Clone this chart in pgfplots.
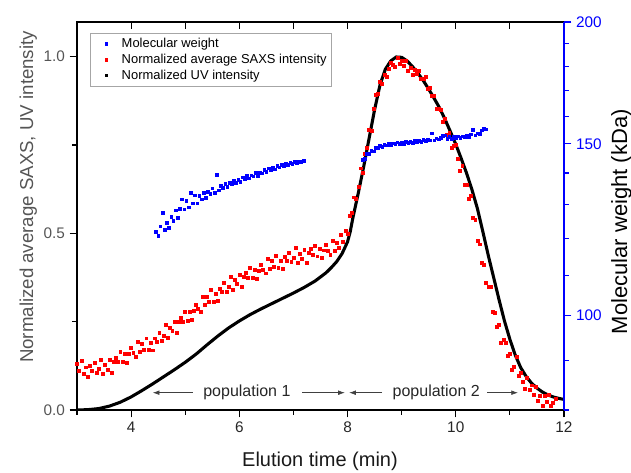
\documentclass[border=0pt]{standalone}
\usepackage{fontspec}
\setmainfont{Liberation Sans}
\usepackage{pgfplots}
\usepackage{pgfplotstable}
\pgfplotsset{compat=1.18}
\usetikzlibrary{arrows.meta}

\definecolor{lgray}{RGB}{85,85,85}

% normalized average SAXS intensity
\pgfplotstableread{
x y
3.00 .132
3.04 .112
3.08 .140
3.12 .103
3.16 .121
3.20 .095
3.24 .126
3.28 .112
3.32 .133
3.36 .106
3.40 .117
3.44 .143
3.48 .102
3.52 .128
3.56 .115
3.60 .141
3.64 .106
3.68 .136
3.72 .149
3.76 .136
3.80 .165
3.84 .136
3.88 .159
3.92 .135
3.96 .158
4.00 .176
4.04 .161
4.08 .151
4.12 .192
4.16 .166
4.20 .188
4.24 .171
4.28 .203
4.32 .170
4.36 .191
4.40 .169
4.44 .203
4.48 .194
4.52 .219
4.56 .196
4.60 .211
4.64 .241
4.68 .204
4.72 .233
4.76 .223
4.80 .251
4.84 .218
4.88 .249
4.92 .262
4.96 .250
5.00 .279
5.04 .252
5.08 .277
5.12 .255
5.16 .280
5.20 .299
5.24 .286
5.28 .278
5.32 .321
5.36 .297
5.40 .320
5.44 .305
5.48 .339
5.52 .307
5.56 .329
5.60 .308
5.64 .343
5.68 .334
5.72 .359
5.76 .335
5.80 .349
5.84 .378
5.88 .340
5.92 .368
5.96 .357
6.00 .384
6.04 .349
6.08 .378
6.12 .389
6.16 .375
6.20 .403
6.24 .374
6.28 .396
6.32 .372
6.36 .394
6.40 .412
6.44 .397
6.48 .387
6.52 .428
6.56 .401
6.60 .422
6.64 .405
6.68 .436
6.72 .402
6.76 .423
6.80 .400
6.84 .433
6.88 .422
6.92 .445
6.96 .419
7.00 .431
7.04 .458
7.08 .417
7.12 .443
7.16 .429
7.20 .454
7.24 .417
7.28 .445
7.32 .455
7.36 .440
7.40 .466
7.44 .435
7.48 .456
7.52 .430
7.56 .452
7.60 .468
7.64 .451
7.68 .439
7.72 .479
7.76 .451
7.80 .472
7.84 .458
7.88 .497
7.92 .475
7.96 .508
8.00 .500
8.04 .549
8.08 .558
8.12 .602
8.16 .597
8.20 .631
8.24 .684
8.28 .672
8.32 .726
8.36 .741
8.40 .794
8.44 .791
8.48 .852
8.52 .891
8.56 .894
8.60 .929
8.64 .924
8.68 .949
8.72 .943
8.76 .965
8.80 .982
8.84 .976
8.88 .972
8.92 .998
8.96 .981
9.00 .989
9.04 .974
9.08 .988
9.12 .961
9.16 .968
9.20 .949
9.24 .963
9.28 .952
9.32 .960
9.36 .938
9.40 .937
9.44 .944
9.48 .909
9.52 .912
9.56 .890
9.60 .888
9.64 .852
9.68 .853
9.72 .849
9.76 .816
9.80 .825
9.84 .779
9.88 .785
9.92 .743
9.96 .749
10.00 .750
10.04 .712
10.08 .676
10.12 .690
10.16 .638
10.20 .637
10.24 .597
10.28 .606
10.32 .545
10.36 .538
10.40 .478
10.44 .469
10.48 .416
10.52 .412
10.56 .359
10.60 .349
10.64 .349
10.68 .277
10.72 .276
10.76 .236
10.80 .242
10.84 .189
10.88 .200
10.92 .191
10.96 .154
11.00 .159
11.04 .113
11.08 .122
11.12 .150
11.16 .097
11.20 .105
11.24 .080
11.28 .060
11.32 .092
11.36 .057
11.40 .070
11.44 .044
11.48 .067
11.52 .026
11.56 .040
11.60 .011
11.64 .039
11.68 .023
11.72 .042
11.76 .012
11.80 .020
11.84 .031
}\saxs

% normalized UV intensity
\pgfplotstableread{
x y
3.0 0.000
3.2 0.001
3.4 0.004
3.6 0.011
3.8 0.022
4.0 0.037
4.2 0.055
4.4 0.074
4.6 0.094
4.8 0.114
5.0 0.135
5.2 0.158
5.4 0.184
5.6 0.209
5.8 0.232
6.0 0.252
6.2 0.270
6.4 0.286
6.6 0.301
6.8 0.316
7.0 0.331
7.2 0.347
7.4 0.365
7.6 0.388
7.7 0.403
7.8 0.420
7.9 0.443
8.0 0.476
8.05 0.505
8.1 0.545
8.2 0.615
8.3 0.690
8.4 0.770
8.5 0.850
8.6 0.920
8.7 0.965
8.8 0.988
8.9 0.999
9.0 0.998
9.1 0.988
9.2 0.972
9.3 0.953
9.4 0.932
9.5 0.908
9.6 0.882
9.7 0.855
9.8 0.823
9.9 0.788
10.0 0.752
10.1 0.712
10.2 0.670
10.3 0.623
10.4 0.570
10.5 0.505
10.6 0.438
10.7 0.375
10.8 0.312
10.9 0.252
11.0 0.200
11.1 0.155
11.2 0.120
11.3 0.095
11.4 0.076
11.5 0.062
11.6 0.051
11.7 0.043
11.8 0.037
11.9 0.033
12.0 0.030
}\uv

% molecular weight (kDa), population 1
\pgfplotstableread{
x y
4.46 121.8
4.50 120.7
4.54 123.5
4.58 127.5
4.62 122.5
4.66 124.4
4.70 123.1
4.74 126.3
4.78 125.1
4.82 128.2
4.86 125.9
4.90 128.6
4.94 131.6
4.98 128.5
5.02 131.2
5.06 129.1
5.10 133.7
5.14 130.3
5.18 132.8
5.22 130.3
5.26 132.6
5.30 131.6
5.34 133.7
5.38 132.0
5.42 133.9
5.46 133.3
5.50 135.0
5.54 133.6
5.58 139.4
5.62 134.4
5.66 135.9
5.70 135.2
5.74 136.4
5.78 135.5
5.82 136.8
5.86 136.4
5.90 137.6
5.94 136.8
5.98 137.8
6.02 137.2
6.06 138.6
6.10 138.0
6.14 139.0
6.18 138.3
6.22 139.3
6.26 138.9
6.30 140.1
6.34 139.2
6.38 140.2
6.42 139.9
6.46 141.0
6.50 140.4
6.54 141.6
6.58 141.1
6.62 141.8
6.66 141.3
6.70 142.5
6.74 141.9
6.78 142.8
6.82 142.5
6.86 143.2
6.90 142.7
6.94 143.5
6.98 143.2
7.02 143.8
7.06 143.3
7.10 143.9
7.14 143.7
7.18 144.2
7.20 144.0
}\mwa

% molecular weight (kDa), population 2
\pgfplotstableread{
x y
8.28 144.5
8.32 144.9
8.36 146.4
8.40 146.5
8.44 147.6
8.48 147.4
8.52 148.6
8.56 148.5
8.60 149.4
8.64 149.0
8.68 149.7
8.72 149.5
8.76 150.2
8.80 149.6
8.84 150.2
8.88 149.9
8.92 150.5
8.96 150.1
9.00 150.5
9.04 150.1
9.08 150.7
9.12 150.3
9.16 150.7
9.20 150.4
9.24 151.0
9.28 150.5
9.32 151.1
9.36 150.8
9.40 151.4
9.44 151.0
9.48 151.5
9.52 151.2
9.56 153.8
9.60 151.3
9.64 152.0
9.68 151.6
9.72 152.2
9.76 152.8
9.80 153.1
9.84 151.9
9.88 152.5
9.92 151.9
9.96 152.5
10.00 152.1
10.04 152.7
10.08 152.1
10.12 152.7
10.16 152.4
10.20 153.0
10.24 152.5
10.28 153.4
10.32 155.0
10.36 153.1
10.40 153.8
10.44 153.5
10.48 154.9
10.52 155.6
10.56 155.2
}\mwb

\begin{document}
\begin{tikzpicture}
% left axis: SAXS and UV
\begin{axis}[
    at={(0,0)},
    width=365.25pt, height=291pt, scale only axis,
    xmin=3, xmax=12, ymin=0, ymax=1.098,
    xtick={4,6,8,10,12}, minor xtick={3,5,7,9,11},
    ytick={0,0.5,1}, minor ytick={0.25,0.75},
    yticklabels={0.0,0.5,1.0},
    xtick pos=bottom, ytick pos=left,
    tick align=outside,
    major tick length=5.5pt, minor tick length=3.5pt,
    every tick/.style={black, line width=0.8pt},
    axis line style={line width=0.9pt},
    tick label style={font=\fontsize{11.5}{13}\selectfont},
    xticklabel style={black!85},
    yticklabel style={lgray},
    /pgf/number format/assume math mode=true,
    xlabel={Elution time (min)},
    xlabel style={at={(axis description cs:0.499,-0.1460)}, anchor=base,
        font=\fontsize{15}{17}\selectfont, black!90},
    ylabel={Normalized average SAXS, UV intensity},
    ylabel style={at={(axis description cs:-0.0903,0.549)}, anchor=base,
        font=\fontsize{14}{16}\selectfont, lgray},
]
\addplot[only marks, mark=square*, mark size=1.1pt, red] table {\saxs};
\addplot[black, line width=2.3pt] table {\uv};

\draw[-{Latex[length=5pt,width=3.5pt]}, black!75, line width=0.5pt]
    (axis cs:5.14,0.049) -- (axis cs:4.40,0.049);
\draw[-{Latex[length=5pt,width=3.5pt]}, black!75, line width=0.5pt]
    (axis cs:7.16,0.049) -- (axis cs:7.95,0.049);
\node[anchor=base, font=\fontsize{12}{14}\selectfont, black!85]
    at (axis cs:6.14,0.0377) {population 1};
\draw[-{Latex[length=5pt,width=3.5pt]}, black!75, line width=0.5pt]
    (axis cs:8.64,0.049) -- (axis cs:8.03,0.049);
\draw[-{Latex[length=5pt,width=3.5pt]}, black!75, line width=0.5pt]
    (axis cs:10.58,0.049) -- (axis cs:11.15,0.049);
\node[anchor=base, font=\fontsize{12}{14}\selectfont, black!85]
    at (axis cs:9.64,0.0377) {population 2};
\end{axis}

% top ticks, pointing inward
\begin{axis}[
    at={(0,0)},
    width=365.25pt, height=291pt, scale only axis,
    xmin=3, xmax=12, ymin=0, ymax=1,
    axis x line*=top, axis y line=none,
    x axis line style={-, line width=0.9pt},
    xtick={4,5,...,11}, xticklabels={},
    tick align=inside, major tick length=5pt,
    every tick/.style={black, line width=0.8pt},
]
\end{axis}

% right axis: molecular weight
\begin{axis}[
    at={(0,0)},
    width=365.25pt, height=291pt, scale only axis,
    xmin=3, xmax=12,
    axis x line=none,
    axis y line*=right,
    ymode=log, ymin=80, ymax=200,
    ytick={100,150,200}, yticklabels={100,150,200},
    minor ytick={80,90,110,120,130,140,160,170,180,190},
    y axis line style={-, blue, line width=0.9pt},
    tick align=outside,
    major tick length=5.5pt, minor tick length=3.5pt,
    every tick/.style={blue, line width=0.8pt},
    yticklabel style={blue, font=\fontsize{11.5}{13}\selectfont},
    ylabel={Molecular weight (kDa)},
    ylabel style={at={(axis description cs:1.1294,0.485)}, anchor=base,
        font=\fontsize{16.5}{18}\selectfont, black},
    legend style={at={(axis description cs:0.0267,0.9716)}, anchor=north west,
        draw=gray!70, line width=0.6pt, fill=white,
        font=\fontsize{9.7}{11}\selectfont,
        inner xsep=1.5pt, inner ysep=1.5pt, row sep=-0.6pt},
    legend cell align=left,
    legend image code/.code={%
        \path[draw=none, fill=none] (0pt,0pt) -- (20pt,0pt);
        \draw[#1] plot coordinates {(10.5pt,0pt)};},
]
\addplot[only marks, mark=square*, mark size=1pt, blue] table {\mwa};
\addlegendentry{Molecular weight}
\addplot[only marks, mark=square*, mark size=1pt, blue, forget plot] table {\mwb};
\addlegendimage{only marks, mark=square*, mark size=1pt, red}
\addlegendentry{Normalized average SAXS intensity}
\addlegendimage{only marks, mark=square*, mark size=1pt, black}
\addlegendentry{Normalized UV intensity}
\end{axis}

\pgfresetboundingbox
\path[use as bounding box] (-57.75pt,-46.5pt) rectangle (415.5pt,307.5pt);
\end{tikzpicture}
\end{document}
